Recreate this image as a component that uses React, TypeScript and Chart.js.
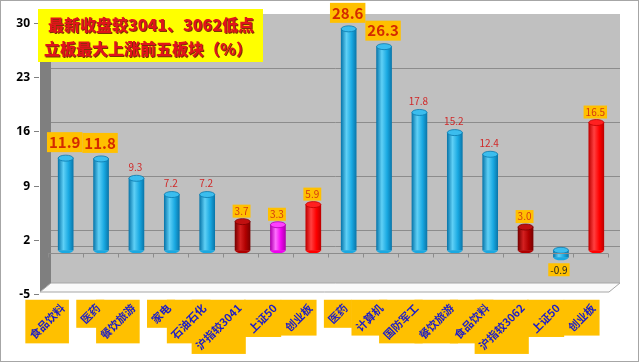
import React, { useEffect, useRef } from "react";
import { Chart, registerables } from "chart.js";

Chart.register(...registerables);

const categories = [
  "食品饮料", "医药", "餐饮旅游", "家电", "石油石化", "沪指较3041", "上证50", "创业板",
  "医药", "计算机", "国防军工", "餐饮旅游", "食品饮料", "沪指较3062", "上证50", "创业板",
];
const values = [11.9, 11.8, 9.3, 7.2, 7.2, 3.7, 3.3, 5.9, 28.6, 26.3, 17.8, 15.2, 12.4, 3.0, -0.9, 16.5];
// colour keys per bar
const barKinds = ["b", "b", "b", "b", "b", "d", "m", "r", "b", "b", "b", "b", "b", "d", "b", "r"];
// data label style per bar: big (highlighted), small (plain), tag (small highlighted)
const labelKinds = ["big", "big", "small", "small", "small", "tag", "tag", "tag", "big", "big", "small", "small", "small", "tag", "tag", "tag"];
const yTicks = [-5, 2, 9, 16, 23, 30];
const titleLines = ["最新收盘较3041、3062低点", "立板最大上涨前五板块（%）"];

const palette: Record<string, { edge: string; mid: string; hi: string; top: string }> = {
  b: { edge: "#0A78AC", mid: "#19A9E2", hi: "#5FD0F6", top: "#3BBDEE" },
  d: { edge: "#7A0000", mid: "#B00000", hi: "#D42020", top: "#C01010" },
  m: { edge: "#B000B0", mid: "#F000F0", hi: "#FF70FF", top: "#FF40FF" },
  r: { edge: "#C00000", mid: "#FF0000", hi: "#FF4040", top: "#FF2020" },
};

const CJK = "'Noto Sans CJK SC', 'Noto Sans', sans-serif";

const decorPlugin = {
  id: "decor",
  beforeDraw(chart: any) {
    const { ctx, scales } = chart;
    const y = scales.y;
    ctx.save();
    ctx.fillStyle = "#FFFFFF";
    ctx.fillRect(0, 0, chart.width, chart.height);
    ctx.strokeStyle = "#A6A6A6";
    ctx.lineWidth = 1;
    ctx.strokeRect(0.5, 0.5, 638, 361);
    // back wall
    ctx.fillStyle = "#C0C0C0";
    ctx.fillRect(51, 14, 569, 269);
    // left wall
    ctx.fillStyle = "#7F7F7F";
    ctx.beginPath();
    ctx.moveTo(40, 23);
    ctx.lineTo(51, 14);
    ctx.lineTo(51, 283);
    ctx.lineTo(40, 292);
    ctx.closePath();
    ctx.fill();
    // floor
    ctx.fillStyle = "#FAFAFA";
    ctx.strokeStyle = "#A6A6A6";
    ctx.beginPath();
    ctx.moveTo(40, 292);
    ctx.lineTo(609, 292);
    ctx.lineTo(620, 283);
    ctx.lineTo(51, 283);
    ctx.closePath();
    ctx.fill();
    ctx.stroke();
    // gridlines on back wall
    ctx.strokeStyle = "#8C8C8C";
    ctx.lineWidth = 1;
    const grid = [...yTicks.filter((t) => t > -5 && t < 30), 0];
    for (const t of grid) {
      const py = Math.round(y.getPixelForValue(t) - 4.5) + 0.5;
      ctx.beginPath();
      ctx.moveTo(51, py);
      ctx.lineTo(620, py);
      ctx.stroke();
    }
    // y tick marks and labels
    ctx.strokeStyle = "#808080";
    ctx.fillStyle = "#000000";
    ctx.font = "bold 12px 'Noto Sans', sans-serif";
    ctx.textAlign = "right";
    ctx.textBaseline = "middle";
    for (const t of yTicks) {
      const py = Math.round(y.getPixelForValue(t) + 5) + 0.5;
      ctx.beginPath();
      ctx.moveTo(34, py);
      ctx.lineTo(39, py);
      ctx.stroke();
      ctx.fillText(String(t), 30, py);
    }
    ctx.restore();
  },
  afterDatasetsDraw(chart: any) {
    const { ctx, scales } = chart;
    const x = scales.x;
    const y = scales.y;
    const meta = chart.getDatasetMeta(0);
    ctx.save();
    // cylinder caps
    meta.data.forEach((bar: any, i: number) => {
      const p = palette[barKinds[i]];
      const hw = bar.width / 2;
      const top = Math.min(bar.y, bar.base);
      const bot = Math.max(bar.y, bar.base);
      ctx.fillStyle = p.mid;
      ctx.beginPath();
      ctx.ellipse(bar.x, bot, hw, 3, 0, 0, Math.PI);
      ctx.fill();
      ctx.fillStyle = p.top;
      ctx.strokeStyle = p.edge;
      ctx.lineWidth = 0.8;
      ctx.beginPath();
      ctx.ellipse(bar.x, top, hw, 3, 0, 0, Math.PI * 2);
      ctx.fill();
      ctx.stroke();
    });
    // category axis at zero
    const y0 = Math.round(y.getPixelForValue(0) + 3) + 0.5;
    ctx.strokeStyle = "#8C8C8C";
    ctx.lineWidth = 1;
    ctx.beginPath();
    ctx.moveTo(x.left, y0);
    ctx.lineTo(x.right - 6, y0);
    ctx.stroke();
    const step = (x.right - x.left) / categories.length;
    for (let i = 0; i <= categories.length; i++) {
      const px = Math.round(x.left + i * step - 6 * (i / categories.length)) + 0.5;
      ctx.beginPath();
      ctx.moveTo(px, y0);
      ctx.lineTo(px, y0 + 4);
      ctx.stroke();
    }
    // data labels
    ctx.textAlign = "center";
    ctx.textBaseline = "middle";
    meta.data.forEach((bar: any, i: number) => {
      const v = values[i];
      const kind = labelKinds[i];
      const txt = v.toFixed(1);
      if (kind === "big") {
        ctx.font = `bold 15px ${CJK}`;
        const w = ctx.measureText(txt).width + 4;
        const bottom = bar.y - 6;
        ctx.fillStyle = "#FFC000";
        ctx.fillRect(bar.x - w / 2 - 1, bottom - 20, w, 20);
        ctx.fillStyle = "#D42A00";
        ctx.fillText(txt, bar.x - 1, bottom - 10);
      } else if (kind === "small") {
        ctx.font = `10px ${CJK}`;
        ctx.fillStyle = "#D02828";
        ctx.fillText(txt, bar.x - 1, bar.y - 11);
      } else {
        ctx.font = `10px ${CJK}`;
        const w = ctx.measureText(txt).width + 4;
        if (v >= 0) {
          const bottom = bar.y - 4;
          ctx.fillStyle = "#FFC000";
          ctx.fillRect(bar.x - w / 2 - 1, bottom - 13, w, 13);
          ctx.fillStyle = "#D43A10";
          ctx.fillText(txt, bar.x - 1, bottom - 6.5);
        } else {
          const topY = bar.y + 6;
          ctx.fillStyle = "#FFC000";
          ctx.fillRect(bar.x - w / 2 - 2, topY, w, 13);
          ctx.fillStyle = "#222222";
          ctx.fillText(txt, bar.x - 2, topY + 6.5);
        }
      }
    });
    // category labels (rotated, highlighted boxes)
    ctx.font = `bold 11px ${CJK}`;
    const h = 12;
    const c = Math.SQRT1_2;
    const items = categories.map((lab, i) => {
      const ax = x.getPixelForValue(i) - 3;
      const ay = 306;
      const w = ctx.measureText(lab).width;
      return { lab, ax, ay, w };
    });
    ctx.fillStyle = "#FFC000";
    for (const it of items) {
      const l = it.ax - c * it.w - c * h / 2 - 2;
      const r = it.ax + c * h / 2 + 2;
      const t = it.ay - c * h / 2 - 2;
      const b = it.ay + c * it.w + c * h / 2 + 2;
      ctx.fillRect(l, t, r - l, b - t);
    }
    ctx.fillStyle = "#1C1CC8";
    ctx.textAlign = "right";
    ctx.textBaseline = "middle";
    for (const it of items) {
      ctx.save();
      ctx.translate(it.ax, it.ay);
      ctx.rotate(-Math.PI / 4);
      ctx.fillText(it.lab, 0, 0);
      ctx.restore();
    }
    // title box
    ctx.fillStyle = "#FFFF00";
    ctx.fillRect(38, 9, 225, 53);
    ctx.font = `900 16px ${CJK}`;
    ctx.textAlign = "center";
    ctx.textBaseline = "middle";
    ctx.shadowColor = "rgba(90,0,0,0.8)";
    ctx.shadowOffsetX = 1;
    ctx.shadowOffsetY = 1;
    ctx.shadowBlur = 0;
    ctx.fillStyle = "#E0141B";
    ctx.fillText(titleLines[0], 151, 25);
    ctx.fillText(titleLines[1], 148, 49);
    ctx.restore();
  },
};

export default function App() {
  const ref = useRef<HTMLCanvasElement | null>(null);
  useEffect(() => {
    document.body.style.margin = "0";
    const canvas = ref.current;
    if (!canvas) return;
    const chart = new Chart(canvas, {
      type: "bar",
      data: {
        labels: categories,
        datasets: [
          {
            data: values,
            barThickness: 15,
            backgroundColor: (ctx: any) => {
              const p = palette[barKinds[ctx.dataIndex] || "b"];
              const sx = ctx.chart.scales && ctx.chart.scales.x;
              if (!sx || ctx.dataIndex === undefined) return p.mid;
              const cx = sx.getPixelForValue(ctx.dataIndex);
              if (!isFinite(cx)) return p.mid;
              const g = ctx.chart.ctx.createLinearGradient(cx - 7.5, 0, cx + 7.5, 0);
              g.addColorStop(0, p.edge);
              g.addColorStop(0.35, p.hi);
              g.addColorStop(0.7, p.mid);
              g.addColorStop(1, p.edge);
              return g;
            },
            borderWidth: 0,
          },
        ],
      },
      options: {
        animation: false,
        responsive: false,
        layout: { padding: { top: 18, bottom: 74, right: 26, left: 0 } },
        plugins: { legend: { display: false }, tooltip: { enabled: false }, title: { display: false } },
        scales: {
          x: { display: false, offset: true },
          y: {
            min: -5,
            max: 30,
            afterFit: (s: any) => {
              s.width = 48;
            },
            afterBuildTicks: (s: any) => {
              s.ticks = yTicks.map((v) => ({ value: v }));
            },
            grid: { display: false, drawTicks: false },
            border: { display: false },
            ticks: { display: false },
          },
        },
      },
      plugins: [decorPlugin],
    });
    return () => chart.destroy();
  }, []);
  return (
    <div style={{ width: 640, height: 363 }}>
      <canvas ref={ref} width={640} height={363} style={{ display: "block" }} />
    </div>
  );
}
